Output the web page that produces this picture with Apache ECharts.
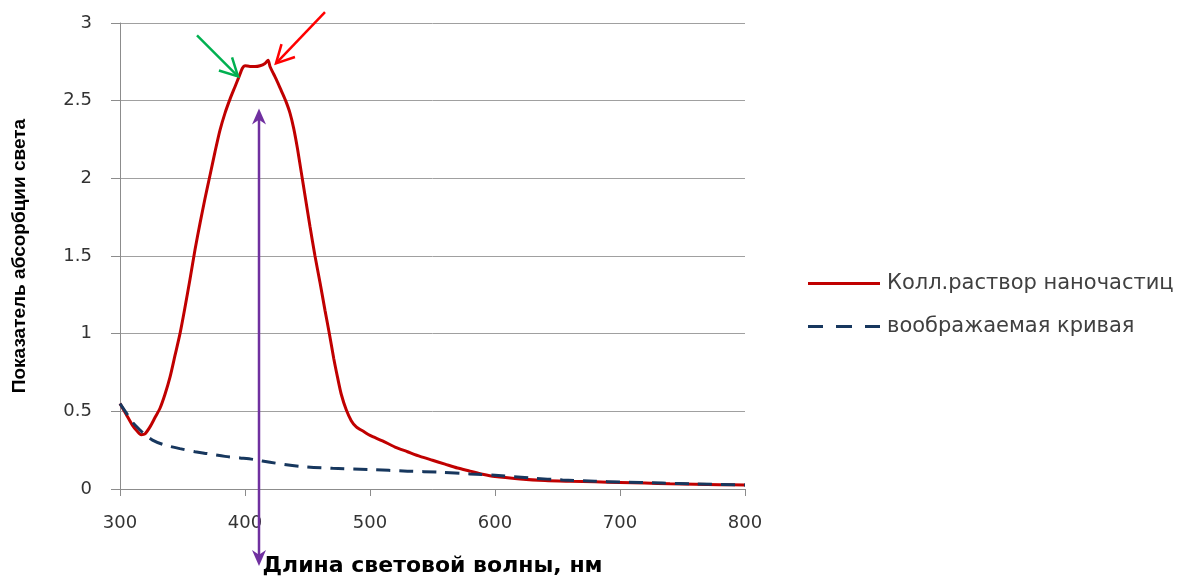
<!DOCTYPE html>
<html>
<head>
<meta charset="utf-8">
<script src="https://cdn.jsdelivr.net/npm/echarts@6/dist/echarts.min.js"></script>
<style>
html,body{margin:0;padding:0;background:#fff;}
#chart{width:1183px;height:576px;}
</style>
</head>
<body>
<div id="chart"></div>
<script>
// ---- Data ----
const seriesNames = ['Колл.раствор наночастиц', 'воображаемая кривая'];
const xAxisTitle = 'Длина световой волны, нм';
const yAxisTitle = 'Показатель абсорбции света';

const colloidWavelength = [300,305,310,314,317,320,324,328,332,336,340,344,348,352,356,360,364,368,372,376,380,384,388,392,395,398,400,404,408,412,416,418.5,420,423,426,429,432.5,436,439,442,445,448,452,456,460,464,467.5,471,474,477,481,485,489,495,500,510,520,530,540,550,560,570,580,590,600,620,640,660,680,700,720,740,760,780,800];
const colloidValues = [0.55,0.48,0.41,0.37,0.35,0.355,0.40,0.46,0.52,0.61,0.72,0.86,1.00,1.17,1.35,1.54,1.71,1.87,2.02,2.17,2.31,2.42,2.51,2.59,2.65,2.71,2.725,2.72,2.72,2.725,2.74,2.76,2.72,2.67,2.62,2.565,2.50,2.42,2.32,2.19,2.04,1.89,1.69,1.50,1.33,1.15,1.00,0.84,0.72,0.61,0.51,0.44,0.40,0.37,0.345,0.31,0.27,0.24,0.21,0.185,0.16,0.135,0.115,0.095,0.08,0.065,0.055,0.05,0.046,0.042,0.038,0.034,0.031,0.028,0.025];

const imaginaryWavelength = [300,305,310,316,320,326,335,348,360,370,384,396,407,420,444,470,500,530,556,580,600,630,654,680,700,734,760,800];
const imaginaryValues = [0.55,0.49,0.43,0.38,0.35,0.315,0.285,0.26,0.24,0.228,0.21,0.20,0.19,0.172,0.145,0.133,0.125,0.115,0.108,0.097,0.088,0.07,0.058,0.05,0.045,0.038,0.033,0.026];

// Annotation arrows in data coordinates [wavelength, value]
const greenArrow = [[361.6, 2.92], [394.4, 2.656]];
const redArrow = [[464, 3.07], [424.8, 2.74]];
const purpleArrow = [[411.2, 2.45], [411.2, -0.495]];

const chart = echarts.init(document.getElementById('chart'), null, {renderer: 'canvas'});

const option = {
  animation: false,
  backgroundColor: '#ffffff',
  grid: {left: 120, right: 438, top: 23, bottom: 87, containLabel: false, outerBoundsMode: 'none'},
  legend: {
    orient: 'vertical',
    left: 808,
    top: 273,
    padding: 0,
    itemWidth: 72,
    itemHeight: 3,
    itemGap: 22,
    symbolKeepAspect: false,
    textStyle: {fontFamily: 'DejaVu Sans', fontSize: 21, lineHeight: 21, color: '#404040', padding: [0,0,0,2]},
    data: [
      {name: seriesNames[0], icon: 'path://M0,0h72v3h-72z'},
      {name: seriesNames[1], icon: 'path://M0,0h15v3h-15z M28,0h16v3h-16z M57,0h15v3h-15z'}
    ]
  },
  xAxis: {
    type: 'value',
    min: 300, max: 800, interval: 100,
    name: xAxisTitle,
    nameLocation: 'middle',
    nameGap: 66,
    nameTextStyle: {fontFamily: 'DejaVu Sans', fontWeight: 'bold', fontSize: 22, color: '#000'},
    axisLine: {show: true, onZero: false, lineStyle: {color: '#8c8c8c', width: 1}},
    axisTick: {show: true, inside: false, length: 7, lineStyle: {color: '#8c8c8c'}},
    axisLabel: {margin: 25, fontFamily: 'DejaVu Sans', fontSize: 18, color: '#333'},
    splitLine: {show: false}
  },
  yAxis: {
    type: 'value',
    min: 0, max: 3, interval: 0.5,
    name: yAxisTitle,
    nameLocation: 'middle',
    nameGap: 91,
    nameTextStyle: {fontFamily: 'Liberation Sans', fontWeight: 'bold', fontSize: 19, color: '#000'},
    axisLine: {show: true, lineStyle: {color: '#8c8c8c', width: 1}},
    axisTick: {show: true, inside: false, length: 9, lineStyle: {color: '#8c8c8c'}},
    axisLabel: {margin: 28, fontFamily: 'DejaVu Sans', fontSize: 18, color: '#333'},
    splitLine: {show: true, lineStyle: {color: '#a0a0a0', width: 1}}
  },
  series: [
    {
      name: seriesNames[0],
      type: 'line',
      showSymbol: false,
      symbol: 'none',
      smooth: 0.25,
      data: colloidWavelength.map((w, i) => [w, colloidValues[i]]),
      lineStyle: {color: '#C00000', width: 3},
      itemStyle: {color: '#C00000'},
      z: 3
    },
    {
      name: seriesNames[1],
      type: 'line',
      showSymbol: false,
      symbol: 'none',
      smooth: 0.3,
      data: imaginaryWavelength.map((w, i) => [w, imaginaryValues[i]]),
      lineStyle: {color: '#17375E', width: 3, type: [14, 9], cap: 'butt'},
      itemStyle: {color: '#17375E'},
      z: 4
    }
  ]
};
chart.setOption(option);

function px(v) { return chart.convertToPixel({gridIndex: 0}, v); }

function openArrow(seg, color, width, barbLen) {
  const a = px(seg[0]), b = px(seg[1]);
  const ang = Math.atan2(b[1] - a[1], b[0] - a[0]);
  const spread = Math.PI / 6.5;
  const b1 = [b[0] - barbLen * Math.cos(ang - spread), b[1] - barbLen * Math.sin(ang - spread)];
  const b2 = [b[0] - barbLen * Math.cos(ang + spread), b[1] - barbLen * Math.sin(ang + spread)];
  return [
    {type: 'polyline', shape: {points: [a, b]}, style: {stroke: color, lineWidth: width, fill: null}, z: 10},
    {type: 'polyline', shape: {points: [b1, b, b2]}, style: {stroke: color, lineWidth: width, fill: null, lineJoin: 'miter'}, z: 10}
  ];
}

function doubleArrow(seg, color, width, headLen, headHalf) {
  const a = px(seg[0]), b = px(seg[1]);
  const ang = Math.atan2(b[1] - a[1], b[0] - a[0]);
  const ux = Math.cos(ang), uy = Math.sin(ang);
  const nx = -uy, ny = ux;
  const head = (tip, dir) => {
    const bx = tip[0] - dir * ux * headLen, by = tip[1] - dir * uy * headLen;
    const mx = tip[0] - dir * ux * headLen * 0.7, my = tip[1] - dir * uy * headLen * 0.7;
    return {type: 'polygon', shape: {points: [tip, [bx + nx * headHalf, by + ny * headHalf], [mx, my], [bx - nx * headHalf, by - ny * headHalf]]}, style: {fill: color}, z: 10};
  };
  const s = [a[0] + ux * headLen * 0.6, a[1] + uy * headLen * 0.6];
  const e = [b[0] - ux * headLen * 0.6, b[1] - uy * headLen * 0.6];
  return [
    {type: 'line', shape: {x1: s[0], y1: s[1], x2: e[0], y2: e[1]}, style: {stroke: color, lineWidth: width}, z: 10},
    head(a, -1),
    head(b, 1)
  ];
}

const graphics = []
  .concat(openArrow(greenArrow, '#00B050', 2.5, 20))
  .concat(openArrow(redArrow, '#FF0000', 2.5, 20))
  .concat(doubleArrow(purpleArrow, '#7030A0', 2.5, 16, 7));

chart.setOption({graphic: graphics});
</script>
</body>
</html>
